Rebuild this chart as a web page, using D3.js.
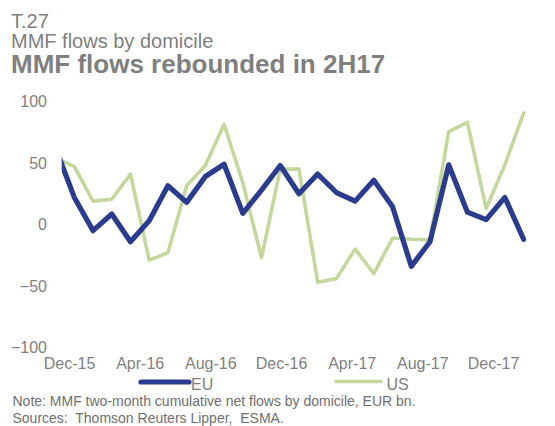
<!DOCTYPE html>
<html>
<head>
<meta charset="utf-8">
<script src="https://cdn.jsdelivr.net/npm/d3@7"></script>
<style>
  body { margin: 0; background: #fff; }
  svg { display: block; font-family: "Liberation Sans", Arial, sans-serif; }
</style>
</head>
<body>
<svg id="chart" width="555" height="426"></svg>
<script>

// monthly observations, first one sits just outside the plot area
const months = ['Nov-15', 'Dec-15', 'Jan-16', 'Feb-16', 'Mar-16', 'Apr-16', 'May-16', 'Jun-16',
    'Jul-16', 'Aug-16', 'Sep-16', 'Oct-16', 'Nov-16', 'Dec-16', 'Jan-17', 'Feb-17', 'Mar-17',
    'Apr-17', 'May-17', 'Jun-17', 'Jul-17', 'Aug-17', 'Sep-17', 'Oct-17', 'Nov-17', 'Dec-17'];

const euFlows = [62, 22, -5, 8.5, -14, 3, 31.5, 18, 39, 49, 9, 28, 48, 25, 41, 26, 19, 36,
    14.5, -34, -14, 48.5, 10, 4, 22, -12];

const usFlows = [54, 47, 19, 20.5, 41, -29, -23, 31.5, 48, 81.5, 34, -27, 45, 45, -47, -44,
    -20, -40, -11, -12, -12.5, 75.5, 83, 13, 48.5, 90.5];

const xTickLabels = ['Dec-15', 'Apr-16', 'Aug-16', 'Dec-16', 'Apr-17', 'Aug-17', 'Dec-17'];
const yTicks = [-100, -50, 0, 50, 100];

const titleLines = ['T.27', 'MMF flows by domicile'];
const headline = 'MMF flows rebounded in 2H17';
const notes = ['Note: MMF two-month cumulative net flows by domicile, EUR bn.',
    'Sources:  Thomson Reuters Lipper,  ESMA.'];

const euColor = '#2b3c8e';
const usColor = '#c4d79c';
const textGrey = '#7f7f7f';

const svg = d3.select('#chart');

const plotLeft = 61.7;

const x = d3.scalePoint()
    .domain(months)
    .range([55.6, 523.6]);

// the category labels in the original are spaced a little tighter than the points
const xLabels = d3.scalePoint()
    .domain(xTickLabels)
    .range([69, 493]);

const y = d3.scaleLinear()
    .domain([-100, 100])
    .range([347.5, 101.5]);

// header
svg.selectAll('text.head')
    .data(titleLines)
    .enter().append('text')
        .attr('class', 'head')
        .attr('x', 11)
        .attr('y', function(d, i) { return 28.3 + i * 20; })
        .attr('fill', textGrey)
        .style('font-size', '20px')
        .text(function(d) { return d; });

svg.append('text')
    .attr('x', 11)
    .attr('y', 72.7)
    .attr('fill', textGrey)
    .style('font-size', '26px')
    .style('font-weight', 'bold')
    .text(headline);

// y axis, labels only
const yAxis = svg.append('g')
    .attr('transform', 'translate(' + 47 + ',0)')
    .call(d3.axisLeft(y).tickValues(yTicks).tickSize(0).tickPadding(0));
yAxis.select('.domain').remove();
yAxis.selectAll('text')
    .attr('fill', textGrey)
    .style('font-size', '16px')
    .style('font-family', '"Liberation Sans", Arial, sans-serif');

// x axis, labels only
const xAxis = svg.append('g')
    .attr('transform', 'translate(0,' + 356 + ')')
    .call(d3.axisBottom(xLabels).tickSize(0).tickPadding(0));
xAxis.select('.domain').remove();
xAxis.selectAll('text')
    .attr('fill', textGrey)
    .attr('dy', '0.82em')
    .style('font-size', '16px')
    .style('font-family', '"Liberation Sans", Arial, sans-serif');

svg.append('clipPath')
    .attr('id', 'plot-clip')
    .append('rect')
        .attr('x', plotLeft)
        .attr('y', 0)
        .attr('width', 555 - plotLeft)
        .attr('height', 426);

const line = d3.line()
    .x(function(d, i) { return x(months[i]); })
    .y(function(d) { return y(d); });

const series = [
    { name: 'US', values: usFlows, color: usColor, width: 3.6 },
    { name: 'EU', values: euFlows, color: euColor, width: 5.2 }
];

svg.append('g')
    .attr('clip-path', 'url(#plot-clip)')
    .selectAll('path')
    .data(series)
    .enter().append('path')
        .attr('d', function(d) { return line(d.values); })
        .attr('fill', 'none')
        .attr('stroke', function(d) { return d.color; })
        .attr('stroke-width', function(d) { return d.width; })
        .attr('stroke-linejoin', 'round')
        .attr('stroke-linecap', 'round');

// legend
const legendItems = [
    { name: 'EU', color: euColor, width: 5.2, x0: 141, x1: 189, yLine: 382, tx: 191 },
    { name: 'US', color: usColor, width: 3.6, x0: 336, x1: 381, yLine: 381.5, tx: 386.5 }
];

const legend = svg.selectAll('g.legend')
    .data(legendItems)
    .enter().append('g')
        .attr('class', 'legend');

legend.append('line')
    .attr('x1', function(d) { return d.x0; })
    .attr('x2', function(d) { return d.x1; })
    .attr('y1', function(d) { return d.yLine; })
    .attr('y2', function(d) { return d.yLine; })
    .attr('stroke', function(d) { return d.color; })
    .attr('stroke-width', function(d) { return d.width; })
    .attr('stroke-linecap', 'round');

legend.append('text')
    .attr('x', function(d) { return d.tx; })
    .attr('y', 389.5)
    .attr('fill', textGrey)
    .style('font-size', '16px')
    .text(function(d) { return d.name; });

// footnotes
svg.selectAll('text.note')
    .data(notes)
    .enter().append('text')
        .attr('class', 'note')
        .attr('x', 12.5)
        .attr('y', function(d, i) { return 406 + i * 16.5; })
        .attr('fill', '#6f6f6f')
        .style('font-size', '14px')
        .style('white-space', 'pre')
        .text(function(d) { return d; });

</script>
</body>
</html>
